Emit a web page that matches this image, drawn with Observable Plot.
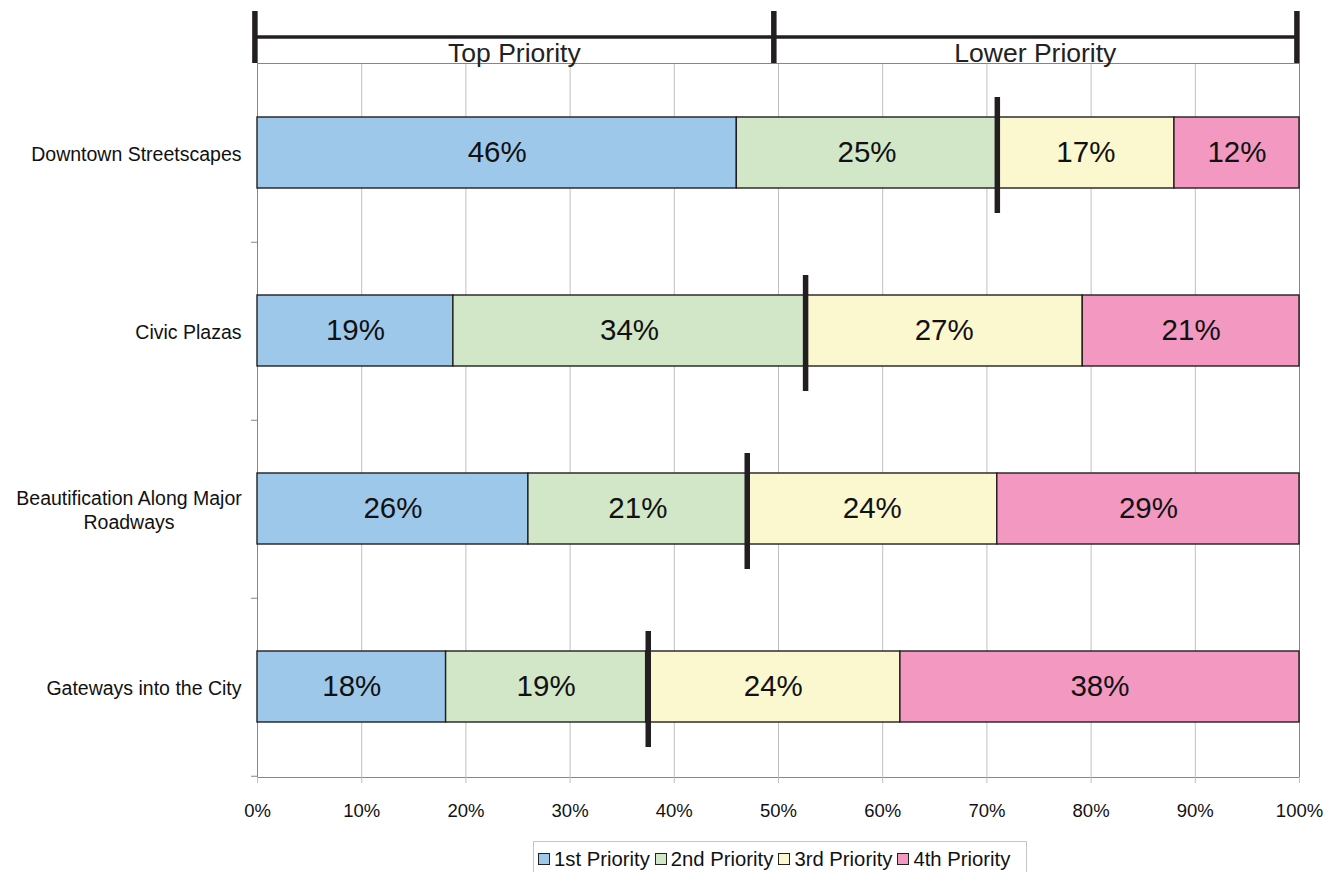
<!DOCTYPE html>
<html><head><meta charset="utf-8">
<script src="https://cdn.jsdelivr.net/npm/d3@7"></script>
<script src="https://cdn.jsdelivr.net/npm/@observablehq/plot@0.6"></script>
<style>
body{margin:0;background:#fff;font-family:"Liberation Sans",Arial,sans-serif;overflow:hidden;width:1325px;height:872px;position:relative;}
#legend{position:absolute;left:533px;top:841px;width:494px;height:36px;border:1px solid #c4c4c4;box-sizing:border-box;display:flex;align-items:center;padding-left:4px;font-size:20.3px;color:#111;white-space:nowrap;}
.item{display:flex;align-items:center;margin-right:5px;}
.sw{width:10px;height:10px;border:1px solid #222;margin-right:4px;}
</style></head><body><div id="chart"></div><div id="legend"></div>
<script>
const categories = ["Downtown Streetscapes", "Civic Plazas", "Beautification Along Major Roadways", "Gateways into the City"];
const categoryLabels = ["Downtown Streetscapes", "Civic Plazas", "Beautification Along Major\nRoadways", "Gateways into the City"];
const series = ["1st Priority", "2nd Priority", "3rd Priority", "4th Priority"];
const firstPriority = [0.46, 0.188, 0.26, 0.181];
const secondPriority = [0.25, 0.338, 0.21, 0.192];
const thirdPriority = [0.17, 0.266, 0.24, 0.244];
const fourthPriority = [0.12, 0.208, 0.29, 0.383];
const topTwoMarker = [0.71, 0.526, 0.47, 0.375];
const groupLabels = ["Top Priority", "Lower Priority"];
const groupBounds = [-0.002, 0.496, 0.998];
const xTicks = [0, 0.1, 0.2, 0.3, 0.4, 0.5, 0.6, 0.7, 0.8, 0.9, 1];
const colors = ["#9ec8ea", "#d1e7c7", "#fbf8d0", "#f399c1"];

const seriesValues = [firstPriority, secondPriority, thirdPriority, fourthPriority];
const rows = [];
categories.forEach((c, i) => {
  let cum = 0;
  series.forEach((s, j) => {
    const v = seriesValues[j][i];
    rows.push({category: c, series: s, x1: cum, x2: cum + v, mid: cum + v / 2, label: Math.round(v * 100) + "%"});
    cum += v;
  });
});
const markers = categories.map((c, i) => ({category: c, value: topTwoMarker[i]}));

const W = 1325, H = 838, mL = 257, mR = 26, mT = 63, mB = 61;
const step = (H - mT - mB) / categories.length;
const ink = "#231f20";

function bracketMark(index, scales, values, dimensions) {
  const x = scales.x;
  const g = d3.create("svg:g");
  const last = groupBounds.length - 1;
  g.append("line")
    .attr("x1", x(groupBounds[0])).attr("x2", x(groupBounds[last]))
    .attr("y1", 37).attr("y2", 37)
    .attr("stroke", ink).attr("stroke-width", 3.5);
  groupBounds.forEach(b => {
    g.append("line")
      .attr("x1", x(b)).attr("x2", x(b))
      .attr("y1", 11).attr("y2", dimensions.marginTop)
      .attr("stroke", ink).attr("stroke-width", 5.5);
  });
  groupLabels.forEach((l, i) => {
    g.append("text")
      .attr("x", (x(groupBounds[i]) + x(groupBounds[i + 1])) / 2)
      .attr("y", 62)
      .attr("text-anchor", "middle")
      .attr("font-size", 26.5)
      .attr("fill", "#222")
      .text(l);
  });
  return g.node();
}

const chart = Plot.plot({
  width: W, height: H,
  marginLeft: mL, marginRight: mR, marginTop: mT, marginBottom: mB,
  style: {fontFamily: '"Liberation Sans", Arial, sans-serif', fontSize: "18.5px", color: "#111", background: "#fff", overflow: "visible"},
  x: {domain: [0, 1], label: null},
  y: {domain: categories, paddingInner: 0.6, paddingOuter: 0.3, label: null},
  color: {domain: series, range: colors},
  marks: [
    Plot.gridX(xTicks, {stroke: "#c0c0c0", strokeOpacity: 1}),
    Plot.frame({stroke: "#868686"}),
    Plot.ruleY(categories, {y: d => d, x1: 0, x2: 0, insetLeft: -6, dy: step / 2, stroke: "#868686"}),
    Plot.barX(rows, {x1: "x1", x2: "x2", y: "category", fill: "series", stroke: ink, strokeWidth: 1.4}),
    Plot.text(rows, {x: "mid", y: "category", text: "label", fontSize: 29.5, fill: "#111"}),
    Plot.tickX(markers, {x: "value", y: "category", stroke: ink, strokeWidth: 5.5, insetTop: -20, insetBottom: -25}),
    Plot.axisX(xTicks, {tickFormat: d => Math.round(d * 100) + "%", tickSize: 6, tickPadding: 20, stroke: "#c0c0c0", fontSize: 18.5, label: null}),
    Plot.axisY({tickSize: 0, tickPadding: 16, tickFormat: d => categoryLabels[categories.indexOf(d)], fontSize: 19.5, lineHeight: 1.28, label: null}),
    bracketMark
  ]
});
document.getElementById("chart").append(chart);

// center the lines of wrapped category labels against each other
chart.querySelectorAll('g[aria-label="y-axis tick label"] text').forEach(t => {
  const spans = t.querySelectorAll("tspan");
  if (spans.length > 1) {
    const bb = t.getBBox();
    const cx = bb.x + bb.width / 2;
    t.setAttribute("text-anchor", "middle");
    spans.forEach(s => s.setAttribute("x", cx));
  }
});

const legend = document.getElementById("legend");
series.forEach((s, i) => {
  const item = document.createElement("div");
  item.className = "item";
  const sw = document.createElement("div");
  sw.className = "sw";
  sw.style.background = colors[i];
  const lab = document.createElement("span");
  lab.textContent = s;
  item.append(sw, lab);
  legend.append(item);
});
</script>
</body></html>
